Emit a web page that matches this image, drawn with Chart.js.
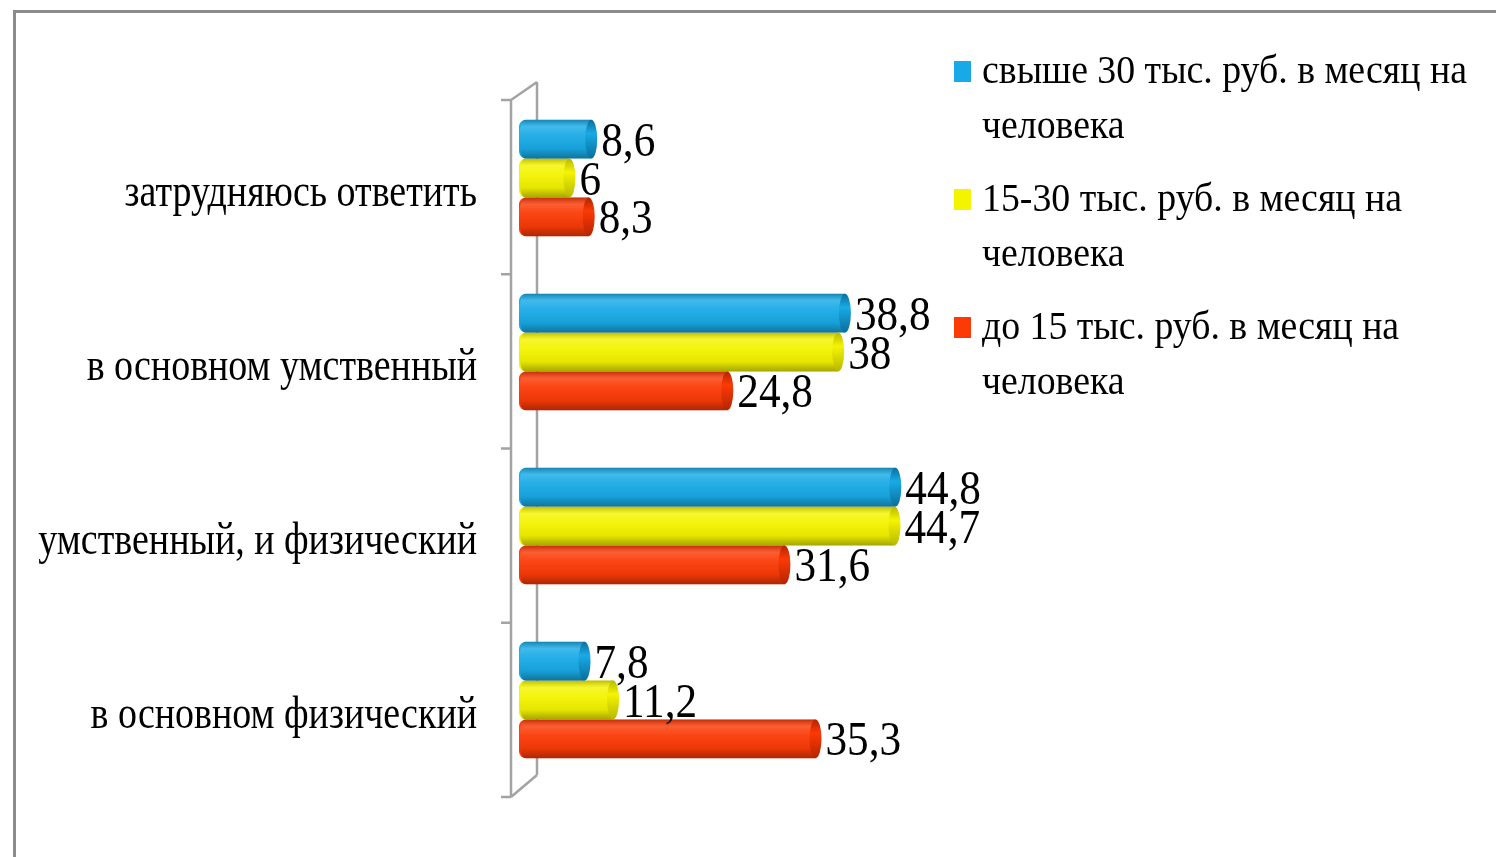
<!DOCTYPE html>
<html>
<head>
<meta charset="utf-8">
<script src="https://cdn.jsdelivr.net/npm/chart.js@4/dist/chart.umd.min.js"></script>
<style>
  html, body { margin: 0; padding: 0; background: #fff; }
  #wrap { position: relative; width: 1496px; height: 857px; overflow: hidden; background: #fff; }
  #frame { position: absolute; left: 13px; top: 10px; right: -10px; bottom: -10px;
           border-left: 3px solid #8c8c8c; border-top: 3px solid #8c8c8c; }
  canvas { position: absolute; left: 0; top: 0; }
</style>
</head>
<body>
<div id="wrap">
  <div id="frame"></div>
  <canvas id="c" width="1496" height="857"></canvas>
</div>
<script>
// ---- data ----
const categories = ['затрудняюсь ответить', 'в основном умственный', 'умственный, и физический', 'в основном физический'];
const seriesNames = ['свыше 30 тыс. руб. в месяц на человека', '15-30 тыс. руб. в месяц на человека', 'до 15 тыс. руб. в месяц на человека'];
const over30 = [8.6, 38.8, 44.8, 7.8];
const from15to30 = [6, 38, 44.7, 11.2];
const under15 = [8.3, 24.8, 31.6, 35.3];

// ---- styles ----
const colors = ['#18aae6', '#f4f400', '#fb3a06'];
const capColors = ['#0a6e9c', '#b8b800', '#b52400'];
const SERIF = '"Liberation Serif", "Times New Roman", serif';

function fmt(v) { return String(v).replace('.', ','); }

function drawScaledText(ctx, text, x, y, size, sx, align) {
  ctx.save();
  ctx.translate(x, y);
  ctx.scale(sx, 1);
  ctx.font = size + 'px ' + SERIF;
  ctx.textAlign = align;
  ctx.textBaseline = 'middle';
  ctx.fillStyle = '#000';
  ctx.fillText(text, 0, 0);
  ctx.restore();
}

const decor = {
  id: 'decor',
  beforeDatasetsDraw(chart) {
    const ctx = chart.ctx;
    const xs = chart.scales.x, ys = chart.scales.y;
    const area = chart.chartArea;
    const zero = xs.getPixelForValue(0);
    const n = categories.length;
    ctx.save();
    ctx.strokeStyle = '#a3a3a3';
    ctx.lineWidth = 2.5;
    const fx = zero - 8, bx = zero + 18;
    const fTop = area.top + 9, fBot = area.bottom + 10;
    const bTop = area.top - 9, bBot = area.bottom - 12;
    ctx.beginPath();
    ctx.moveTo(fx, fTop); ctx.lineTo(fx, fBot);
    ctx.moveTo(bx, bTop); ctx.lineTo(bx, bBot);
    ctx.moveTo(fx, fTop); ctx.lineTo(bx, bTop);
    ctx.moveTo(fx, fBot); ctx.lineTo(bx, bBot);
    for (let i = 0; i <= n; i++) {
      const ty = fTop + i * (fBot - fTop) / n;
      ctx.moveTo(fx - 10, ty); ctx.lineTo(fx, ty);
    }
    ctx.stroke();
    ctx.restore();
    // category labels
    categories.forEach((c, i) => {
      const y = ys.getPixelForValue(i);
      drawScaledText(ctx, c, zero - 42, y + 16, 46, 0.825, 'right');
    });
  },
  afterDatasetsDraw(chart) {
    const ctx = chart.ctx;
    chart.data.datasets.forEach((ds, di) => {
      const meta = chart.getDatasetMeta(di);
      meta.data.forEach((bar, i) => {
        const h = bar.height;
        const top = bar.y - h / 2;
        const left = bar.base, right = bar.x;
        ctx.save();
        // cylinder shading
        const g = ctx.createLinearGradient(0, top, 0, top + h);
        g.addColorStop(0, 'rgba(0,0,0,0.22)');
        g.addColorStop(0.18, 'rgba(255,255,255,0.18)');
        g.addColorStop(0.4, 'rgba(255,255,255,0.06)');
        g.addColorStop(0.75, 'rgba(0,0,0,0.06)');
        g.addColorStop(1, 'rgba(0,0,0,0.32)');
        ctx.beginPath();
        ctx.ellipse(left + 6, bar.y, 6, h / 2, 0, Math.PI / 2, Math.PI * 1.5);
        ctx.lineTo(right, top);
        ctx.lineTo(right, top + h);
        ctx.closePath();
        ctx.fillStyle = g;
        ctx.fill();
        // end cap
        const cg = ctx.createLinearGradient(0, top, 0, top + h);
        cg.addColorStop(0, capColors[di]);
        cg.addColorStop(0.35, colors[di]);
        cg.addColorStop(1, capColors[di]);
        ctx.beginPath();
        ctx.ellipse(right, bar.y, 6, h / 2, 0, 0, Math.PI * 2);
        ctx.fillStyle = cg;
        ctx.fill();
        ctx.restore();
        // value label
        drawScaledText(ctx, fmt(ds.data[i]), right + 10, bar.y + 4, 48, 0.9, 'left');
      });
    });
  },
  afterDraw(chart) {
    const ctx = chart.ctx;
    const lineH = 55, itemGap = 73;
    chart.data.datasets.forEach((ds, di) => {
      const words = ds.label.split(' ');
      const lines = [words.slice(0, -1).join(' '), words[words.length - 1]];
      const y0 = 72 + di * (lineH + itemGap);
      ctx.fillStyle = colors[di];
      ctx.fillRect(954, y0 - 11, 17, 21);
      lines.forEach((t, li) => drawScaledText(ctx, t, 982, y0 + li * lineH, 40, 0.945, 'left'));
    });
  }
};

const datasets = [over30, from15to30, under15].map((d, i) => ({
  label: seriesNames[i],
  data: d,
  backgroundColor: colors[i],
  borderWidth: 0,
  borderSkipped: false,
  borderRadius: { topLeft: 7, bottomLeft: 7, topRight: 0, bottomRight: 0 },
  barPercentage: 1,
  categoryPercentage: 0.67
}));

new Chart(document.getElementById('c'), {
  type: 'bar',
  data: { labels: categories, datasets },
  options: {
    indexAxis: 'y',
    responsive: false,
    animation: false,
    events: [],
    layout: { padding: { left: 519, right: 137, top: 91, bottom: 70 } },
    plugins: { legend: { display: false }, tooltip: { enabled: false } },
    scales: {
      x: { display: false, min: 0, max: 100 },
      y: { display: false }
    }
  },
  plugins: [decor]
});
</script>
</body>
</html>
